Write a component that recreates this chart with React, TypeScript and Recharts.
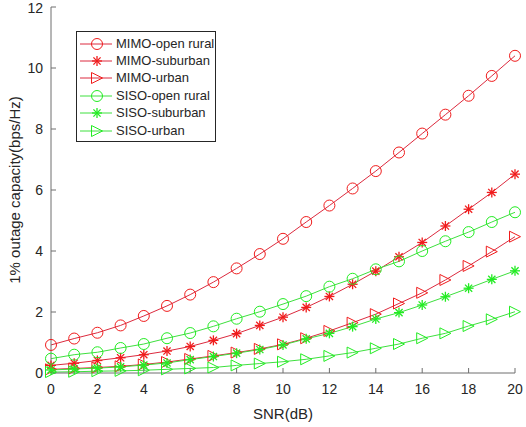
import { Legend, Line, LineChart, XAxis, YAxis } from "recharts";

const snr = [0, 1, 2, 3, 4, 5, 6, 7, 8, 9, 10, 11, 12, 13, 14, 15, 16, 17, 18, 19, 20];

const mimoOpenRural = [0.92, 1.13, 1.32, 1.56, 1.87, 2.2, 2.57, 2.98, 3.43, 3.9, 4.4, 4.95, 5.49, 6.05, 6.62, 7.23, 7.85, 8.47, 9.09, 9.74, 10.4];
const mimoSuburban = [0.25, 0.32, 0.41, 0.5, 0.6, 0.72, 0.87, 1.07, 1.29, 1.56, 1.83, 2.15, 2.51, 2.91, 3.34, 3.81, 4.28, 4.82, 5.37, 5.92, 6.52];
const mimoUrban = [0.12, 0.15, 0.18, 0.22, 0.28, 0.36, 0.46, 0.56, 0.67, 0.79, 0.94, 1.14, 1.38, 1.65, 1.93, 2.28, 2.63, 3.05, 3.51, 3.98, 4.47];
const sisoOpenRural = [0.47, 0.6, 0.68, 0.82, 0.95, 1.14, 1.31, 1.53, 1.78, 2.01, 2.26, 2.52, 2.83, 3.09, 3.4, 3.66, 4.0, 4.32, 4.62, 4.95, 5.27];
const sisoSuburban = [0.1, 0.13, 0.16, 0.2, 0.26, 0.33, 0.44, 0.54, 0.65, 0.77, 0.92, 1.12, 1.3, 1.52, 1.77, 1.98, 2.23, 2.5, 2.78, 3.07, 3.35];
const sisoUrban = [0.03, 0.04, 0.06, 0.07, 0.09, 0.12, 0.15, 0.18, 0.25, 0.31, 0.37, 0.45, 0.56, 0.67, 0.81, 0.95, 1.14, 1.3, 1.54, 1.76, 2.01];

const xTicks = [0, 2, 4, 6, 8, 10, 12, 14, 16, 18, 20];
const yTicks = [0, 2, 4, 6, 8, 10, 12];

const RED_LINE = "#dc2a3e";
const RED_MARK = "#f01c1c";
const GREEN_LINE = "#3ee03e";
const GREEN_MARK = "#22ec22";
const AXIS = "#6e6e6e";
const TEXT = "#262626";
const FONT = "'Liberation Sans', Arial, sans-serif";

type MarkerKind = "circle" | "star" | "triangle";

const series: { key: string; name: string; values: number[]; line: string; mark: string; marker: MarkerKind }[] = [
  { key: "mimoOpenRural", name: "MIMO-open rural", values: mimoOpenRural, line: RED_LINE, mark: RED_MARK, marker: "circle" },
  { key: "mimoSuburban", name: "MIMO-suburban", values: mimoSuburban, line: RED_LINE, mark: RED_MARK, marker: "star" },
  { key: "mimoUrban", name: "MIMO-urban", values: mimoUrban, line: RED_LINE, mark: RED_MARK, marker: "triangle" },
  { key: "sisoOpenRural", name: "SISO-open rural", values: sisoOpenRural, line: GREEN_LINE, mark: GREEN_MARK, marker: "circle" },
  { key: "sisoSuburban", name: "SISO-suburban", values: sisoSuburban, line: GREEN_LINE, mark: GREEN_MARK, marker: "star" },
  { key: "sisoUrban", name: "SISO-urban", values: sisoUrban, line: GREEN_LINE, mark: GREEN_MARK, marker: "triangle" },
];

const data = snr.map((x, i) => {
  const row: Record<string, number> = { snr: x };
  series.forEach((s) => {
    row[s.key] = s.values[i];
  });
  return row;
});

function Marker({ cx, cy, kind, color }: { cx: number; cy: number; kind: MarkerKind; color: string }) {
  if (kind === "circle") {
    return <circle cx={cx} cy={cy} r={5.5} fill="none" stroke={color} strokeWidth={1} />;
  }
  if (kind === "star") {
    const r = 5;
    const d = 3.6;
    return (
      <g stroke={color} strokeWidth={1.3}>
        <line x1={cx - r} y1={cy} x2={cx + r} y2={cy} />
        <line x1={cx} y1={cy - r} x2={cx} y2={cy + r} />
        <line x1={cx - d} y1={cy - d} x2={cx + d} y2={cy + d} />
        <line x1={cx - d} y1={cy + d} x2={cx + d} y2={cy - d} />
      </g>
    );
  }
  const s = 5.5;
  return (
    <polygon
      points={`${cx + s},${cy} ${cx - s},${cy - s} ${cx - s},${cy + s}`}
      fill="none"
      stroke={color}
      strokeWidth={1}
    />
  );
}

function LegendBox() {
  return (
    <div
      style={{
        border: `1px solid ${TEXT}`,
        background: "#fff",
        width: 138,
        padding: "3px 0 2px 0",
        fontFamily: FONT,
        fontSize: 13,
        color: TEXT,
      }}
    >
      {series.map((s) => (
        <div key={s.key} style={{ display: "flex", alignItems: "center", height: 17.4 }}>
          <svg width={39} height={14} style={{ display: "block" }}>
            <line x1={3} y1={7} x2={35} y2={7} stroke={s.line} strokeWidth={1} />
            <Marker cx={20} cy={7} kind={s.marker} color={s.mark} />
          </svg>
          <span style={{ whiteSpace: "nowrap", lineHeight: "14px" }}>{s.name}</span>
        </div>
      ))}
    </div>
  );
}

export default function App() {
  const tickStyle = { fill: TEXT, fontSize: 14, fontFamily: FONT };
  return (
    <div style={{ position: "absolute", left: 0, top: 0, background: "#fff" }}>
      <LineChart width={526} height={427} data={data} margin={{ top: 7, right: 11, left: 0, bottom: 0 }}>
        <XAxis
          dataKey="snr"
          type="number"
          domain={[0, 20]}
          ticks={xTicks}
          height={54}
          stroke={AXIS}
          tick={tickStyle}
          tickSize={-5}
          tickMargin={16}
          label={{ value: "SNR(dB)", position: "insideBottom", offset: 8, fill: TEXT, fontSize: 15, fontFamily: FONT }}
        />
        <XAxis
          xAxisId="top"
          orientation="top"
          type="number"
          domain={[0, 20]}
          ticks={xTicks}
          height={0}
          stroke={AXIS}
          tickSize={-5}
          tickFormatter={() => ""}
        />
        <YAxis
          type="number"
          domain={[0, 12]}
          ticks={yTicks}
          width={51}
          stroke={AXIS}
          tick={tickStyle}
          tickSize={-5}
          tickMargin={13}
          label={{
            value: "1% outage capacity(bps/Hz)",
            angle: -90,
            position: "insideLeft",
            offset: 15,
            fill: TEXT,
            fontSize: 15,
            fontFamily: FONT,
            style: { textAnchor: "middle" },
          }}
        />
        <YAxis
          yAxisId="right"
          orientation="right"
          type="number"
          domain={[0, 12]}
          ticks={yTicks}
          width={0}
          stroke={AXIS}
          tickSize={-5}
          tickFormatter={() => ""}
        />
        <Legend
          layout="vertical"
          align="center"
          verticalAlign="middle"
          content={() => <LegendBox />}
          wrapperStyle={{ left: 76, top: 31, width: "auto", height: "auto" }}
        />
        {series.map((s) => (
          <Line
            key={s.key}
            type="linear"
            dataKey={s.key}
            name={s.name}
            stroke={s.line}
            strokeWidth={1}
            isAnimationActive={false}
            activeDot={false}
            dot={(p: any) => (
              <Marker key={`${s.key}-${p.index}`} cx={p.cx} cy={p.cy} kind={s.marker} color={s.mark} />
            )}
          />
        ))}
      </LineChart>
    </div>
  );
}
